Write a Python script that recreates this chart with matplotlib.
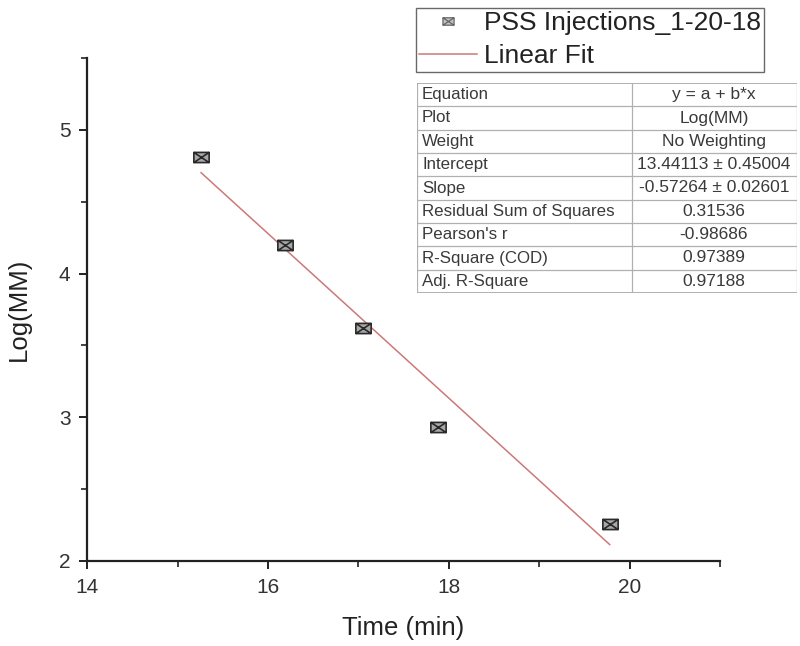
import numpy as np
import matplotlib
matplotlib.use('Agg')
import matplotlib.pyplot as plt
from matplotlib.path import Path
from matplotlib.lines import Line2D
from matplotlib.ticker import MultipleLocator

plt.rcParams['font.family'] = ['Liberation Sans', 'DejaVu Sans']

# data
time_min = [15.26, 16.19, 17.05, 17.88, 19.78]
log_mm = [4.81, 4.20, 3.62, 2.93, 2.26]

# fit parameters as shown in the table
intercept = 13.44113
slope = -0.57264

table_labels = ['Equation', 'Plot', 'Weight', 'Intercept', 'Slope',
                'Residual Sum of Squares', "Pearson's r", 'R-Square (COD)', 'Adj. R-Square']
table_values = ['y = a + b*x', 'Log(MM)', 'No Weighting', '13.44113 \u00b1 0.45004',
                '-0.57264 \u00b1 0.02601', '0.31536', '-0.98686', '0.97389', '0.97188']

# square-with-cross marker, a bit wider than tall
verts = [(-1.5, -1), (1.5, -1), (1.5, 1), (-1.5, 1), (-1.5, -1),
         (-1.5, -1), (1.5, 1), (-1.5, 1), (1.5, -1)]
codes = [Path.MOVETO, Path.LINETO, Path.LINETO, Path.LINETO, Path.CLOSEPOLY,
         Path.MOVETO, Path.LINETO, Path.MOVETO, Path.LINETO]
box_x = Path(verts, codes)

fig = plt.figure(figsize=(8, 6.46), dpi=100)
ax = fig.add_axes([0.109, 0.1316, 0.791, 0.7784])

ax.plot(time_min, log_mm, ls='none', marker=box_x, ms=11, mfc='#a8a8a8',
        mec='#2a2a2a', mew=1.2, zorder=3)
xf = np.array([time_min[0], time_min[-1]])
ax.plot(xf, intercept + slope * xf, color='#cc7878', lw=1.1, zorder=2)

ax.set_xlim(14, 21)
ax.set_ylim(2, 5.5)
ax.xaxis.set_major_locator(MultipleLocator(2))
ax.xaxis.set_minor_locator(MultipleLocator(1))
ax.yaxis.set_major_locator(MultipleLocator(1))
ax.yaxis.set_minor_locator(MultipleLocator(0.5))
ax.set_yticks([2, 3, 4, 5])
for s in ['top', 'right']:
    ax.spines[s].set_visible(False)
for s in ['left', 'bottom']:
    ax.spines[s].set_linewidth(1.6)
    ax.spines[s].set_color('#222222')
ax.tick_params(which='major', direction='out', length=6, width=1.4, colors='#222222',
               labelsize=15, labelcolor='#333333', pad=6)
ax.tick_params(which='minor', direction='out', length=4, width=1.2, colors='#222222')
ax.set_xlabel('Time (min)', fontsize=18.5, color='#222222', labelpad=14)
ax.set_ylabel('Log(MM)', fontsize=18.5, color='#222222', labelpad=20)

# legend
h1 = Line2D([], [], ls='none', marker=box_x, ms=8, mfc='#c4c4c4', mec='#666666', mew=0.9)
h2 = Line2D([], [], color='#cc7878', lw=1.1)
leg = fig.legend([h1, h2], ['PSS Injections_1-20-18', 'Linear Fit'],
                 loc='upper left', bbox_to_anchor=(416 / 800, 1 - 8 / 646),
                 fontsize=19, frameon=True, fancybox=False, handlelength=2.2,
                 handletextpad=0.25, borderpad=0.12, labelspacing=0.35,
                 borderaxespad=0)
leg.get_frame().set_edgecolor('#444444')
leg.get_frame().set_linewidth(1.0)
for t in leg.get_texts():
    t.set_color('#222222')

# fit table
tax = fig.add_axes([417 / 800, (646 - 293) / 646, 380 / 800, 210 / 646])
tax.set_xlim(0, 380)
tax.set_ylim(210, 0)
tax.axis('off')
n = len(table_labels)
rh = 210 / n
for i in range(n + 1):
    tax.plot([0, 380], [i * rh, i * rh], color='#b0b0b0', lw=0.9 if i not in (0, n) else 1.4)
for xx in [0, 215, 380]:
    tax.plot([xx, xx], [0, 210], color='#b0b0b0', lw=0.9)
for i, (lab, val) in enumerate(zip(table_labels, table_values)):
    yc = (i + 0.5) * rh
    tax.text(5, yc, lab, ha='left', va='center', fontsize=12.2, color='#3a3a3a')
    tax.text(297, yc, val, ha='center', va='center', fontsize=12.5, color='#3a3a3a')

fig.savefig('out.png', dpi=100)
